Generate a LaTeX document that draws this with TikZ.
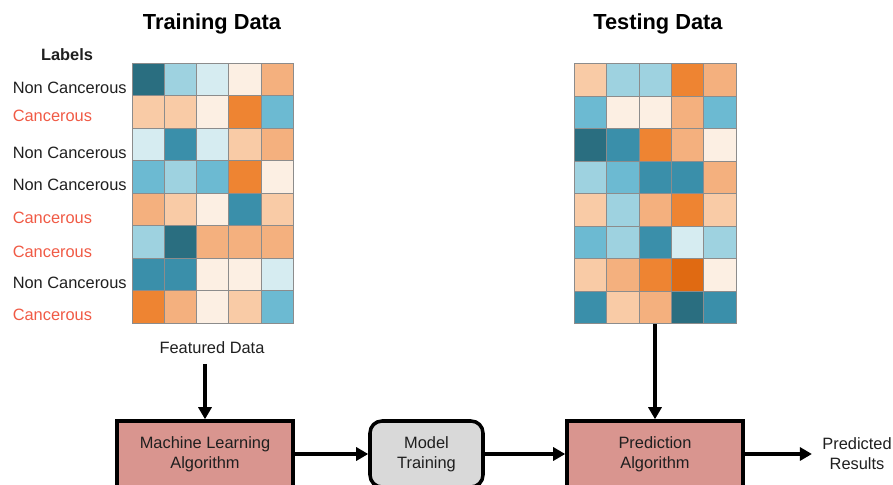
\documentclass[tikz,border=0pt]{standalone}
\usepackage{fontspec}
\setmainfont{Liberation Sans}
\usepackage{tikz}
\usetikzlibrary{arrows.meta}

\definecolor{cD}{HTML}{2A6E80}
\definecolor{cT}{HTML}{3A8FAA}
\definecolor{cM}{HTML}{6CBAD2}
\definecolor{cL}{HTML}{9ED2E0}
\definecolor{cP}{HTML}{D6ECF1}
\definecolor{cW}{HTML}{FCEFE3}
\definecolor{cS}{HTML}{F9CBA6}
\definecolor{cA}{HTML}{F4B07E}
\definecolor{cO}{HTML}{EE8432}
\definecolor{cR}{HTML}{E06A12}
\definecolor{labelred}{HTML}{F05A45}
\definecolor{algofill}{HTML}{D9958F}
\definecolor{trainfill}{HTML}{D9D9D9}

\begin{document}
\begin{tikzpicture}[x=0.3mm, y=-0.3mm, line width=3pt,
    txt/.style={font=\fontsize{14}{17}\selectfont, inner sep=0pt, text=black!88},
    heading/.style={font=\fontsize{18.6}{22}\selectfont\bfseries, inner sep=0pt},
    cell/.style={draw=black!45, line width=0.8pt},
    algo/.style={txt, draw, fill=algofill, align=center, minimum width=52.8mm, minimum height=19.8mm},
    arr/.style={-{Triangle[length=3.6mm, width=3.9mm]}}]
    \clip (0, 0) rectangle (893, 485);

    % draw titles
    \node[heading] (traintitle) at (212, 24) {Training Data};
    \node[heading] (testtitle) at (658, 24) {Testing Data};

    % draw training grid
    \foreach \row [count=\r] in {{D,L,P,W,A},{S,S,W,O,M},{P,T,P,S,A},{M,L,M,O,W},
                                 {A,S,W,T,S},{L,D,A,A,A},{T,T,W,W,P},{O,A,W,S,M}}
      \foreach \c [count=\k] in \row
        \filldraw[cell, fill=c\c] ({132+32.3*(\k-1)}, {63+32.5*(\r-1)}) rectangle +(32.3, 32.5);

    % draw testing grid
    \foreach \row [count=\r] in {{S,L,L,O,A},{M,W,W,A,M},{D,T,O,A,W},{L,M,T,T,A},
                                 {S,L,A,O,S},{M,L,T,P,L},{S,A,O,R,W},{T,S,A,D,T}}
      \foreach \c [count=\k] in \row
        \filldraw[cell, fill=c\c] ({574.5+32.3*(\k-1)}, {63.5+32.5*(\r-1)}) rectangle +(32.3, 32.5);
    \coordinate (testgrid) at (655, 324);

    % draw labels
    \node[txt, font=\fontsize{14}{17}\selectfont\bfseries] (labels) at (67, 55) {Labels};
    \node[txt, anchor=west] (l1) at (11, 88) {Non Cancerous};
    \node[txt, anchor=west, text=labelred] (l2) at (11, 116) {Cancerous};
    \node[txt, anchor=west] (l3) at (11, 153) {Non Cancerous};
    \node[txt, anchor=west] (l4) at (11, 185) {Non Cancerous};
    \node[txt, anchor=west, text=labelred] (l5) at (11, 218) {Cancerous};
    \node[txt, anchor=west, text=labelred] (l6) at (11, 252) {Cancerous};
    \node[txt, anchor=west] (l7) at (11, 283) {Non Cancerous};
    \node[txt, anchor=west, text=labelred] (l8) at (11, 315) {Cancerous};

    % draw flow boxes
    \node[txt, inner sep=2.4mm] (feat) at (212, 348) {Featured Data};
    \node[algo] (mla) at (205, 454) {Machine Learning\\Algorithm};
    \node[txt, draw, fill=trainfill, rounded corners=3.6mm, align=center,
          minimum width=33.9mm, minimum height=19.8mm] (model) at (426.5, 454) {Model\\Training};
    \node[algo] (pred) at (655, 454) {Prediction\\Algorithm};
    \node[txt, align=center, inner sep=2.6mm] (res) at (857, 454) {Predicted\\Results};

    % draw arrows
    \draw[arr] (feat.south -| mla.north) -- (mla.north);
    \draw[arr] (testgrid) -- (pred.north);
    \draw[arr] (mla) -- (model);
    \draw[arr] (model) -- (pred);
    \draw[arr] (pred) -- (res);

\end{tikzpicture}
\end{document}
